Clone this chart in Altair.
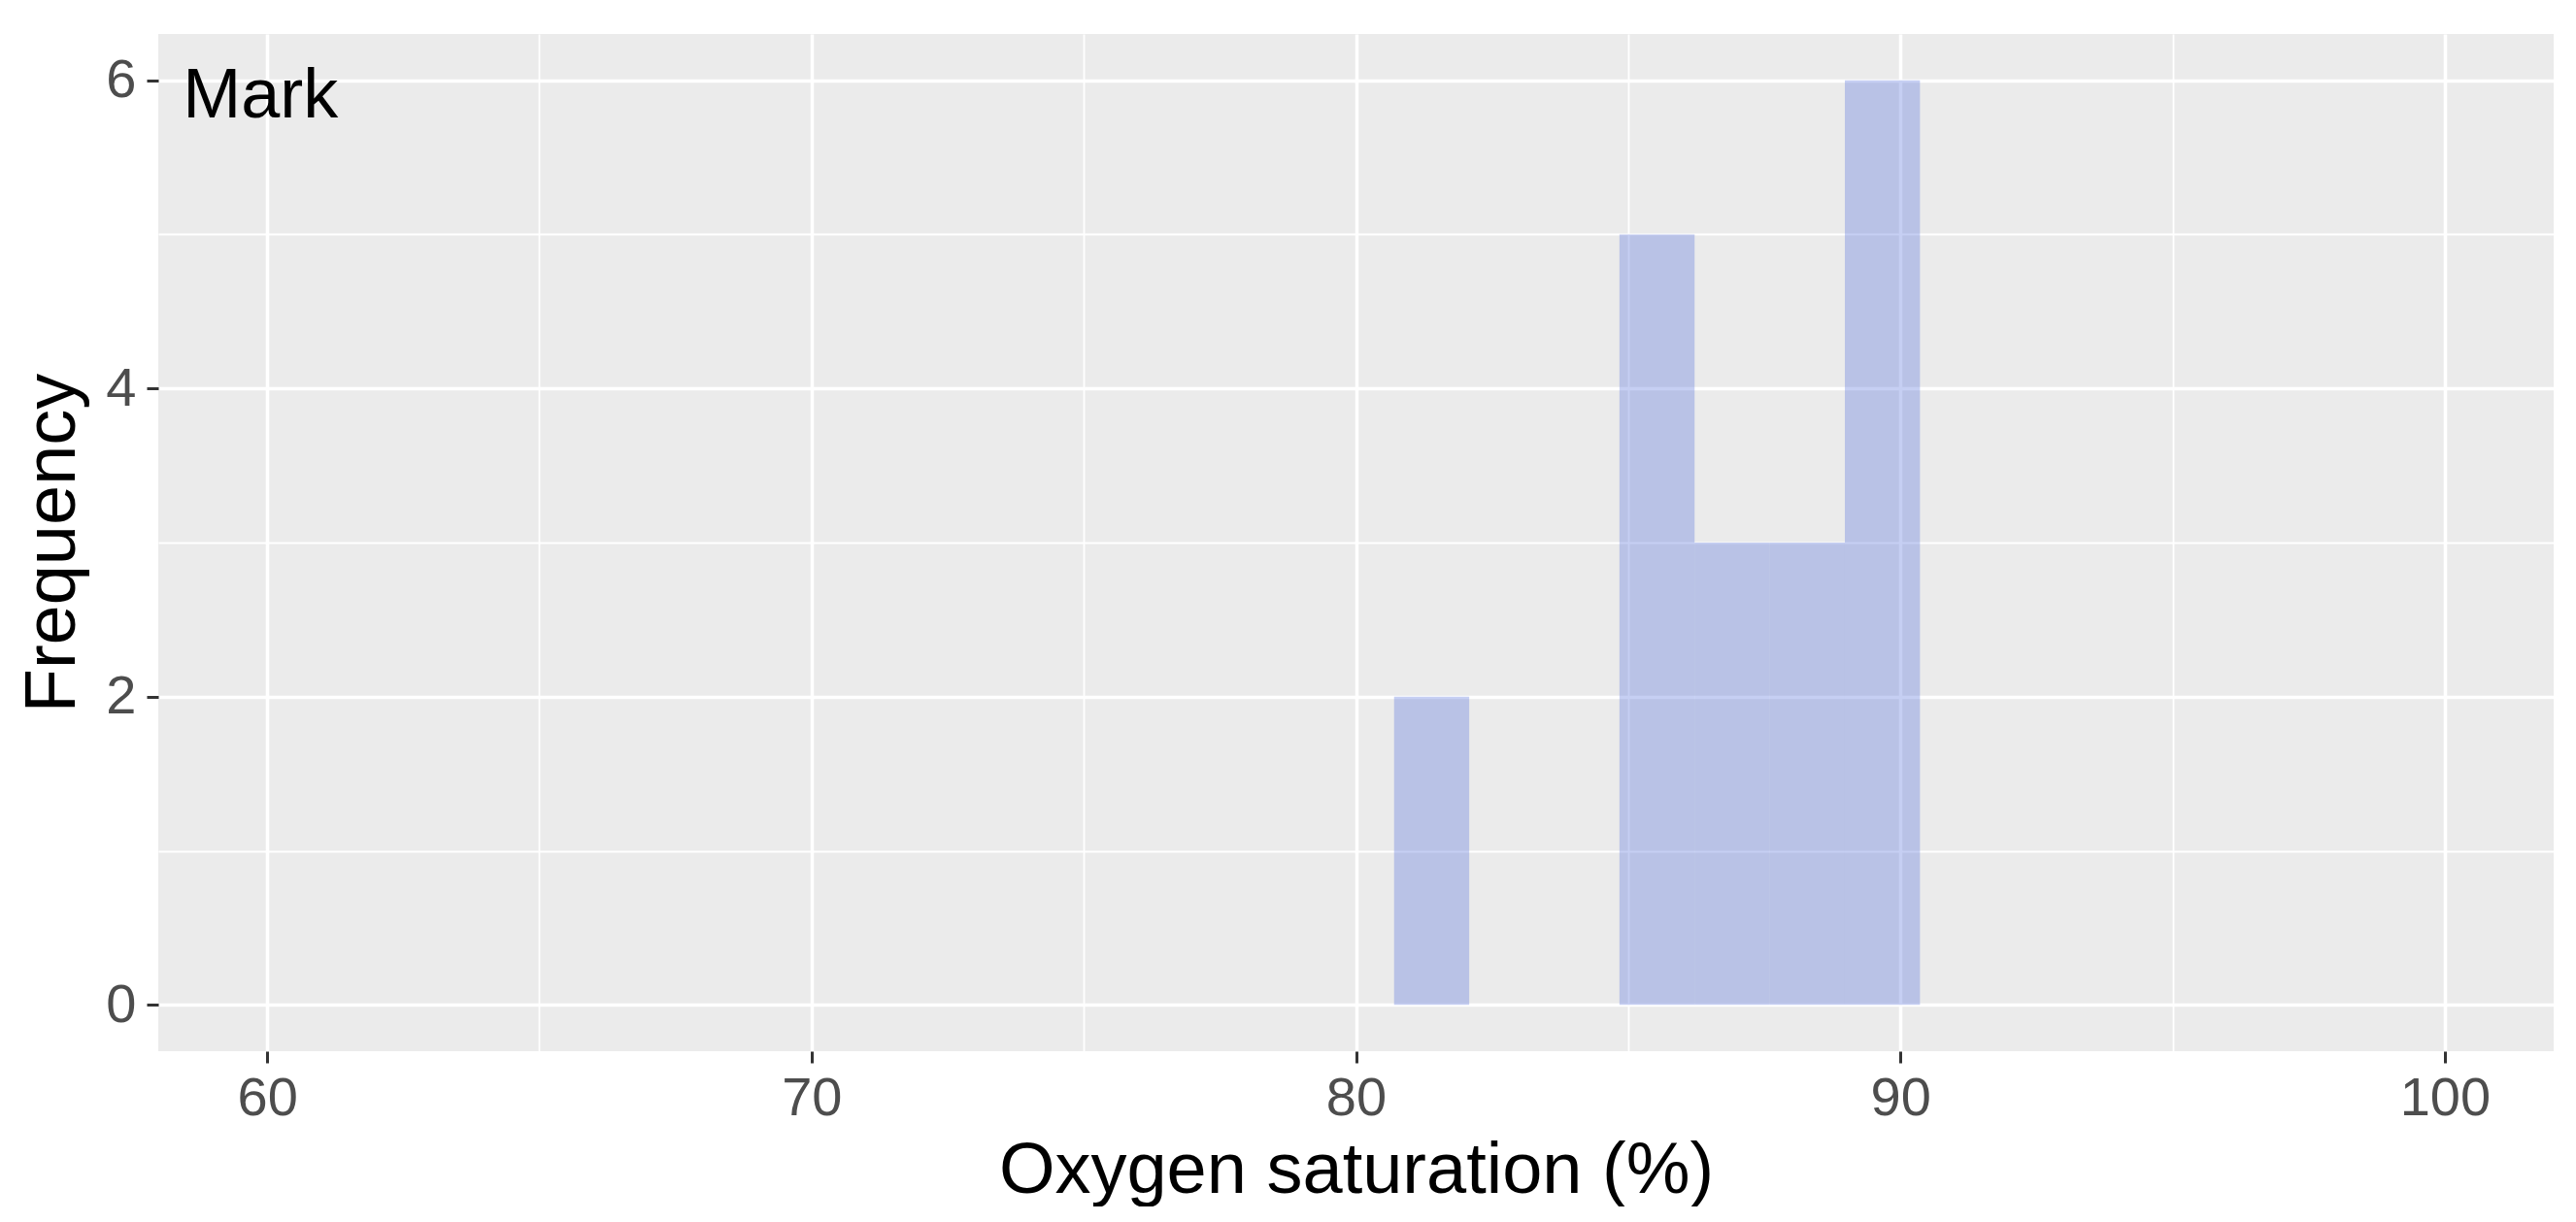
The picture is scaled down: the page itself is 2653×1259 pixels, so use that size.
import altair as alt
import pandas as pd

# Histogram bins (Oxygen saturation %) and counts
bin_start = [80.70, 82.08, 83.46, 84.84, 86.22, 87.60, 88.98]
bin_end = [82.08, 83.46, 84.84, 86.22, 87.60, 88.98, 90.36]
counts = [2, 0, 0, 5, 3, 3, 6]

x_breaks = [60, 65, 70, 75, 80, 85, 90, 95, 100]
y_breaks = [0, 1, 2, 3, 4, 5, 6]

label_text = ["Mark"]
label_x = [58.45]
label_y = [5.76]

bars_df = pd.DataFrame({"x1": bin_start, "x2": bin_end, "count": counts})
bars_df["y0"] = 0
label_df = pd.DataFrame({"x": label_x, "y": label_y, "text": label_text})

FONT = "Liberation Sans"
W, H = 2467, 1048

x_scale = alt.Scale(domain=[58, 102], nice=False, zero=False)
y_scale = alt.Scale(domain=[-0.3, 6.3], nice=False, zero=False)

x_axis = alt.Axis(
    values=x_breaks,
    format="d",
    title="Oxygen saturation (%)",
    labelExpr="datum.value % 10 === 0 ? datum.label : ''",
    grid=True,
    gridColor="white",
    gridOpacity=1,
    gridWidth={"condition": {"test": "datum.value % 10 === 0", "value": 3.5}, "value": 1.8},
    tickColor={"condition": {"test": "datum.value % 10 === 0", "value": "#333333"}, "value": "transparent"},
    tickWidth=3,
    tickSize=12,
    domain=False,
    labelFont=FONT,
    labelFontSize=56,
    labelColor="#4D4D4D",
    labelPadding=9,
    titleFont=FONT,
    titleFontSize=74,
    titleFontWeight="normal",
    titleColor="black",
    titleBaseline="alphabetic",
    titleY=145,
    titleX=W / 2,
    titleAlign="center",
    labelFlush=False,
)

y_axis = alt.Axis(
    values=y_breaks,
    format="d",
    title="Frequency",
    labelExpr="datum.value % 2 === 0 ? datum.label : ''",
    grid=True,
    gridColor="white",
    gridOpacity=1,
    gridWidth={"condition": {"test": "datum.value % 2 === 0", "value": 3.5}, "value": 1.8},
    tickColor={"condition": {"test": "datum.value % 2 === 0", "value": "#333333"}, "value": "transparent"},
    tickWidth=3,
    tickSize=12,
    domain=False,
    labelFont=FONT,
    labelFontSize=56,
    labelColor="#4D4D4D",
    labelPadding=11,
    labelBaseline="middle",
    titleFont=FONT,
    titleFontSize=74,
    titleFontWeight="normal",
    titleColor="black",
    titleAngle=270,
    titleBaseline="alphabetic",
    titleAlign="center",
    titleX=-87,
    titleY=H / 2,
    labelFlush=False,
)

bars = alt.Chart(bars_df).mark_rect(color="#5C76DD", opacity=0.35).encode(
    x=alt.X("x1:Q", scale=x_scale, axis=x_axis),
    x2="x2:Q",
    y=alt.Y("y0:Q", scale=y_scale, axis=y_axis),
    y2="count:Q",
)

label = alt.Chart(label_df).mark_text(
    align="left", baseline="alphabetic", font=FONT, fontSize=72, color="black"
).encode(
    x=alt.X("x:Q", scale=x_scale),
    y=alt.Y("y:Q", scale=y_scale),
    text="text:N",
)

chart = (
    alt.layer(bars, label)
    .properties(
        width=W,
        height=H,
        autosize=alt.AutoSizeParams(type="none"),
        padding={"left": 155, "top": 27, "right": 15, "bottom": 160},
        background="white",
    )
    .configure_view(fill="#EBEBEB", stroke=None)
)

chart.save("out.html", embed_options={"renderer": "svg", "actions": False})
